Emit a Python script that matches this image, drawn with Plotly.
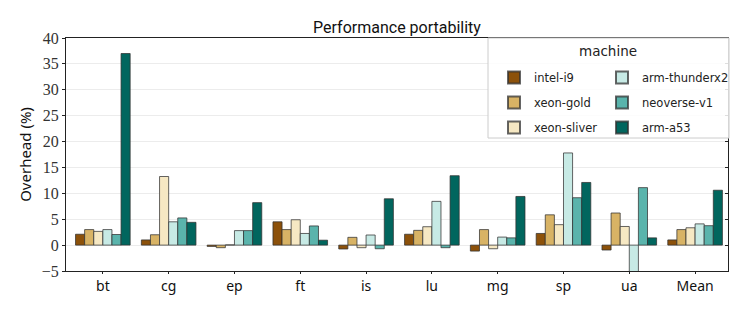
import plotly.graph_objects as go

categories = ["bt", "cg", "ep", "ft", "is", "lu", "mg", "sp", "ua", "Mean"]
machines = ["intel-i9", "xeon-gold", "xeon-sliver", "arm-thunderx2", "neoverse-v1", "arm-a53"]
colors = ["#8c510a", "#d8b365", "#f6e8c3", "#c7eae5", "#5ab4ac", "#01665e"]

intel_i9 = [2.1, 1.0, -0.25, 4.5, -0.75, 2.1, -1.15, 2.25, -0.95, 1.0]
xeon_gold = [3.0, 2.0, -0.5, 3.0, 1.5, 2.85, 3.0, 5.85, 6.2, 3.0]
xeon_sliver = [2.65, 13.25, 0.05, 4.9, -0.5, 3.55, -0.7, 3.95, 3.6, 3.35]
arm_thunderx2 = [3.0, 4.5, 2.8, 2.25, 1.95, 8.45, 1.55, 17.8, -6.0, 4.1]
neoverse_v1 = [2.05, 5.25, 2.8, 3.7, -0.7, -0.5, 1.4, 9.15, 11.1, 3.75]
arm_a53 = [37.0, 4.4, 8.2, 0.95, 8.95, 13.4, 9.4, 12.1, 1.4, 10.6]

series = [intel_i9, xeon_gold, xeon_sliver, arm_thunderx2, neoverse_v1, arm_a53]
legend_of = ["legend", "legend", "legend", "legend2", "legend2", "legend2"]

fig = go.Figure()
for name, vals, col, lg in zip(machines, series, colors, legend_of):
    fig.add_trace(go.Bar(
        x=categories, y=vals, name=name,
        marker=dict(color=col, line=dict(color="rgba(50,50,50,0.75)", width=1)),
        legend=lg, legendgroup=name,
    ))

L, R, T, B = 66, 19, 38, 41
W, H = 747, 312
pw, ph = W - L - R, H - T - B

def px(x):
    return (x - L) / pw

def py(y):
    return (H - B - y) / ph

legend_common = dict(
    bgcolor="rgba(0,0,0,0)", borderwidth=0,
    font=dict(family="DejaVu Sans", size=11.5, color="#222"),
    tracegroupgap=6, xanchor="left", yanchor="top",
    itemsizing="constant",
)

fig.update_layout(
    width=W, height=H,
    margin=dict(l=L, r=R, t=T, b=B, autoexpand=False),
    paper_bgcolor="white", plot_bgcolor="white",
    barmode="group", bargap=0.17, bargroupgap=0,
    title=dict(text="Performance portability", x=(L + pw / 2) / W, xanchor="center",
               y=1 - 27 / H, yanchor="middle",
               font=dict(family="Roboto", size=16, color="#111")),
    showlegend=True,
    legend=dict(x=px(494), y=py(63), **legend_common),
    legend2=dict(x=px(602), y=py(63), **legend_common),
    xaxis=dict(
        showline=True, linecolor="#222", linewidth=1, mirror=True,
        ticks="outside", ticklen=2, tickcolor="#222",
        tickfont=dict(family="Noto Sans", size=14, color="#111"),
        showgrid=False, automargin=False,
    ),
    yaxis=dict(
        range=[-5, 40], dtick=5, tick0=0,
        showline=True, linecolor="#222", linewidth=1, mirror=True,
        ticks="outside", ticklen=3, tickcolor="#222",
        tickfont=dict(family="Liberation Serif, DejaVu Serif, serif", size=16, color="#333"),
        showgrid=True, gridcolor="#ececec", gridwidth=1,
        zeroline=False, automargin=False,
        title=dict(text="Overhead (%)", font=dict(family="Noto Sans", size=15, color="#111"), standoff=6),
    ),
    yaxis2=dict(
        overlaying="y", side="right", matches="y", range=[-5, 40], dtick=5, tick0=0,
        ticks="inside", ticklen=3, tickcolor="#222", showticklabels=False,
        showgrid=False, zeroline=False, showline=False, automargin=False,
    ),
    shapes=[dict(
        type="rect", xref="paper", yref="paper",
        x0=px(488), x1=px(729), y0=py(138), y1=py(38),
        line=dict(color="#cccccc", width=1), fillcolor="rgba(255,255,255,0.85)",
        layer="above",
    )],
    annotations=[dict(
        text="machine", xref="paper", yref="paper", x=px(608), y=py(51),
        xanchor="center", yanchor="middle", showarrow=False,
        font=dict(family="DejaVu Sans", size=13.5, color="#222"),
    )],
)

# invisible trace to activate the right-side mirrored y ticks
fig.add_trace(go.Scatter(x=[categories[0]], y=[0], yaxis="y2", mode="markers",
                         marker=dict(opacity=0), showlegend=False, hoverinfo="skip"))

fig.write_html("out.html", config={"displayModeBar": False},
               post_script="document.body.style.margin='0';document.body.style.padding='0';")
